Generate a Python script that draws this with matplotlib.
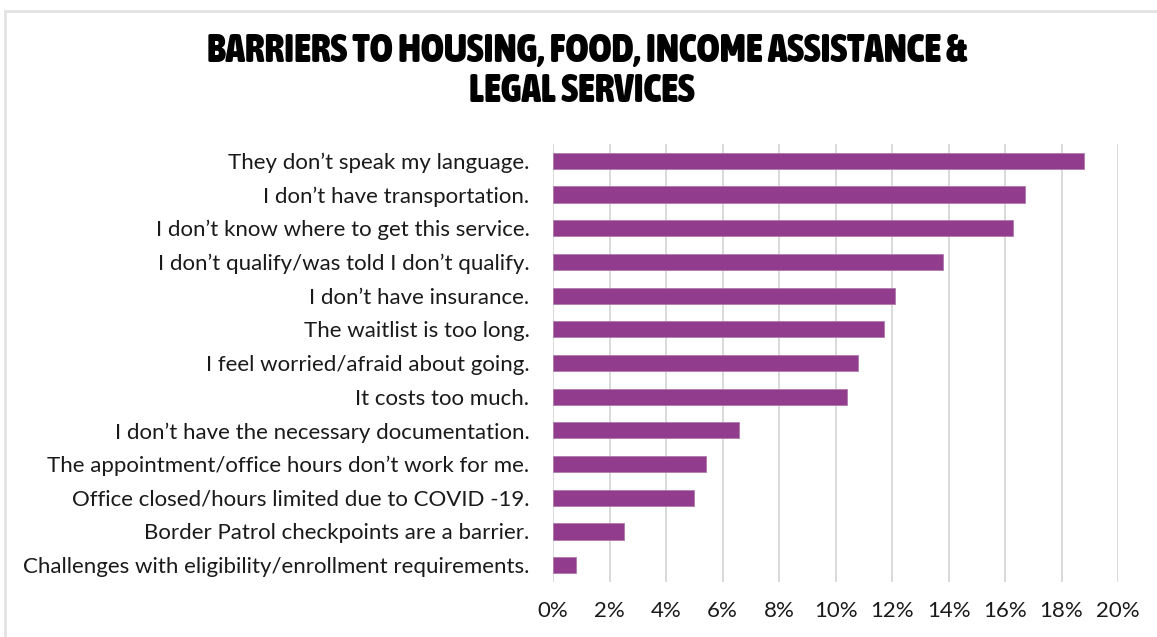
import matplotlib
matplotlib.use("Agg")
import matplotlib.pyplot as plt
from matplotlib.lines import Line2D
from matplotlib.ticker import FuncFormatter
from matplotlib import font_manager

# Survey responses: share of respondents reporting each barrier (%)
barriers = [
    "They don’t speak my language.",
    "I don’t have transportation.",
    "I don’t know where to get this service.",
    "I don’t qualify/was told I don’t qualify.",
    "I don’t have insurance.",
    "The waitlist is too long.",
    "I feel worried/afraid about going.",
    "It costs too much.",
    "I don’t have the necessary documentation.",
    "The appointment/office hours don’t work for me.",
    "Office closed/hours limited due to COVID -19.",
    "Border Patrol checkpoints are a barrier.",
    "Challenges with eligibility/enrollment requirements.",
]
shares = [18.8, 16.7, 16.3, 13.8, 12.1, 11.7, 10.8, 10.4, 6.6, 5.4, 5.0, 2.5, 0.8]
x_ticks = [0, 2, 4, 6, 8, 10, 12, 14, 16, 18, 20]

title_lines = ["BARRIERS TO HOUSING, FOOD, INCOME ASSISTANCE &", "LEGAL SERVICES"]

BAR = "#923C8D"
GRID = "#D9D9D9"
TEXT = "#1A1A1A"
LABEL_FONT = ["Lato", "DejaVu Sans"]


def condensed_bold_font():
    """Return a FontProperties for a narrow heavy face, if one is installed."""
    best = None
    for f in font_manager.fontManager.ttflist:
        name = f.name
        narrow = ("Narrow" in name or "Condensed" in name
                  or f.stretch in ("condensed", "semi-condensed",
                                   "extra-condensed", "ultra-condensed"))
        w = f.weight if isinstance(f.weight, int) else font_manager.weight_dict.get(f.weight, 400)
        if narrow and w >= 700:
            if best is None or w > best[0]:
                best = (w, f.fname)
    if best is not None:
        return font_manager.FontProperties(fname=best[1])
    return font_manager.FontProperties(family="DejaVu Sans", weight="bold")


fig = plt.figure(figsize=(11.57, 6.37), dpi=100)
ax = fig.add_axes([0.478, 0.0863, 0.4883, 0.6876])

ypos = list(range(len(barriers)))
ax.barh(ypos, shares, height=0.48, color=BAR, edgecolor="#B07AAD",
        linewidth=0.6, zorder=3)

ax.set_xlim(0, 20)
ax.set_ylim(len(barriers) - 0.5, -0.5)
ax.set_yticks(ypos)
ax.set_yticklabels(barriers, fontsize=16, family=LABEL_FONT, color=TEXT)
ax.set_xticks(x_ticks)
ax.xaxis.set_major_formatter(FuncFormatter(lambda v, _: f"{v:.0f}%"))
for lab in ax.get_xticklabels():
    lab.set_fontsize(16)
    lab.set_family(LABEL_FONT)
    lab.set_color(TEXT)

ax.tick_params(axis="y", length=0, pad=17)
ax.tick_params(axis="x", length=0, pad=14)
ax.grid(axis="x", color=GRID, linewidth=1.4, zorder=0)
for s in ax.spines.values():
    s.set_visible(False)

# Title: heavy narrow face, sized so the first line spans ~760 px
tfont = condensed_bold_font()
t1 = fig.text(0.507, 1 - 62 / 637, title_lines[0], ha="center", va="baseline",
              fontproperties=tfont, fontsize=24, color="black")
t2 = fig.text(0.503, 1 - 102 / 637, title_lines[1], ha="center", va="baseline",
              fontproperties=tfont, fontsize=24, color="black")
renderer = fig.canvas.get_renderer()
w = t1.get_window_extent(renderer).width
size = 24 * 760 / w
t1.set_fontsize(size)
t2.set_fontsize(size)

# light frame around the chart area
fig.add_artist(Line2D([0.004, 1.0], [0.983, 0.983], transform=fig.transFigure,
                      color="#E3E3E3", linewidth=2.0))
fig.add_artist(Line2D([0.004, 0.004], [0.0, 0.983], transform=fig.transFigure,
                      color="#E3E3E3", linewidth=2.0))

fig.savefig("out.png", dpi=100, facecolor="white")
